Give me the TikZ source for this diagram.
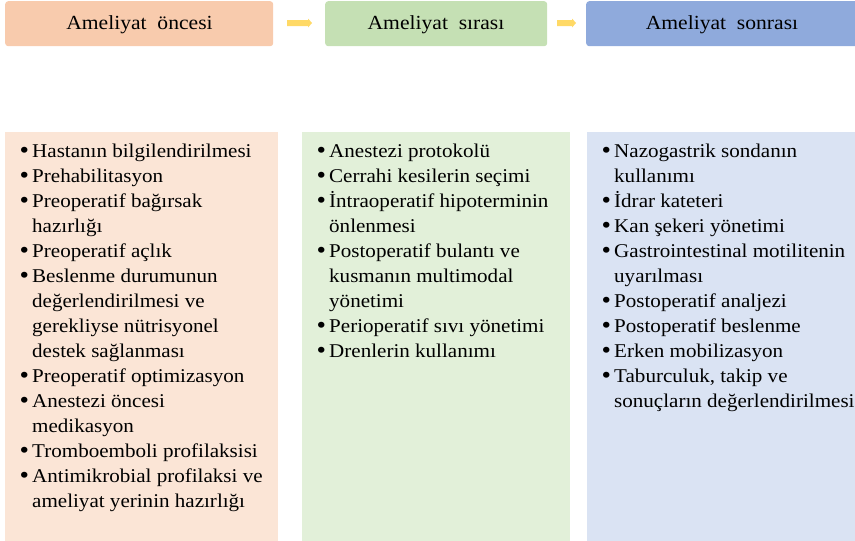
\documentclass[tikz,border=0pt]{standalone}
\usepackage{fontspec}
\setmainfont{Liberation Serif}[FakeStretch=1.08]
\definecolor{hdrA}{HTML}{F8CBAD}
\definecolor{hdrB}{HTML}{C5E0B4}
\definecolor{hdrC}{HTML}{8FAADC}
\definecolor{lowA}{HTML}{FBE5D6}
\definecolor{lowB}{HTML}{E2F0D9}
\definecolor{lowC}{HTML}{DAE3F3}
\definecolor{arrcol}{HTML}{FFD966}
\newcommand{\itmline}[2]{\ifnum#1=1\makebox[11.5pt][l]{\hspace{-1pt}\raisebox{-1.5pt}{\fontsize{25}{25}\selectfont•}}\else\hspace{11.5pt}\fi#2}
\begin{document}
\begin{tikzpicture}[x=1pt,y=-1pt,
  hdrbox/.style={anchor=north west, inner sep=0, rounded corners=3pt, minimum height=45pt},
  hdrtxt/.style={anchor=base, inner sep=0, font=\fontsize{20}{24}\selectfont},
  lowbox/.style={anchor=north west, inner sep=0},
  itm/.style={anchor=base west, inner sep=0, font=\fontsize{19.5}{25}\selectfont}]
\useasboundingbox (0,0) rectangle (855,541);
% headers
\node[hdrbox, fill=hdrA, minimum width=268pt] (h1) at (5,1) {};
\node[hdrbox, fill=hdrB, minimum width=222pt] (h2) at (325,1) {};
\node[hdrbox, fill=hdrC, minimum width=272pt] (h3) at (586,1) {};
\node[hdrtxt] (t1) at (139.5,29) {Ameliyat\ \ öncesi};
\node[hdrtxt] (t2) at (436,29) {Ameliyat\ \ sırası};
\node[hdrtxt] (t3) at (722,29) {Ameliyat\ \ sonrası};
% arrows
\coordinate (a1) at (287,23);
\fill[arrcol] (a1) ++(0,-3) -- ++(21,0) -- ++(0,-1.5) -- ++(4,4.5) -- ++(-4,4.5) -- ++(0,-1.5) -- ++(-21,0) -- cycle;
\coordinate (a2) at (557,23);
\fill[arrcol] (a2) ++(0,-3) -- ++(15,0) -- ++(0,-1.5) -- ++(4,4.5) -- ++(-4,4.5) -- ++(0,-1.5) -- ++(-15,0) -- cycle;
% lower boxes
\node[lowbox, fill=lowA, minimum width=273pt, minimum height=409pt] (b1) at (5,132) {};
\node[lowbox, fill=lowB, minimum width=268pt, minimum height=409pt] (b2) at (302,132) {};
\node[lowbox, fill=lowC, minimum width=268pt, minimum height=409pt] (b3) at (587,132) {};
% left list
\foreach \k/\t [count=\i] in {1/Hastanın bilgilendirilmesi, 1/Prehabilitasyon, 1/Preoperatif bağırsak, 0/hazırlığı, 1/Preoperatif açlık, 1/Beslenme durumunun, 0/değerlendirilmesi ve, 0/gerekliyse nütrisyonel, 0/destek sağlanması, 1/Preoperatif optimizasyon, 1/Anestezi öncesi, 0/medikasyon, 1/Tromboemboli profilaksisi, 1/Antimikrobial profilaksi ve, 0/ameliyat yerinin hazırlığı}
  \node[itm] (L\i) at (20.5,{157+25*(\i-1)}) {\itmline{\k}{\t}};
% middle list
\foreach \k/\t [count=\i] in {1/Anestezi protokolü, 1/Cerrahi kesilerin seçimi, 1/İntraoperatif hipoterminin, 0/önlenmesi, 1/Postoperatif bulantı ve, 0/kusmanın multimodal, 0/yönetimi, 1/Perioperatif sıvı yönetimi, 1/Drenlerin kullanımı}
  \node[itm] (M\i) at (317.5,{157+25*(\i-1)}) {\itmline{\k}{\t}};
% right list
\foreach \k/\t [count=\i] in {1/Nazogastrik sondanın, 0/kullanımı, 1/İdrar kateteri, 1/Kan şekeri yönetimi, 1/Gastrointestinal motilitenin, 0/uyarılması, 1/Postoperatif analjezi, 1/Postoperatif beslenme, 1/Erken mobilizasyon, 1/{Taburculuk, takip ve}, 0/sonuçların değerlendirilmesi}
  \node[itm] (R\i) at (602.5,{157+25*(\i-1)}) {\itmline{\k}{\t}};
\end{tikzpicture}
\end{document}
